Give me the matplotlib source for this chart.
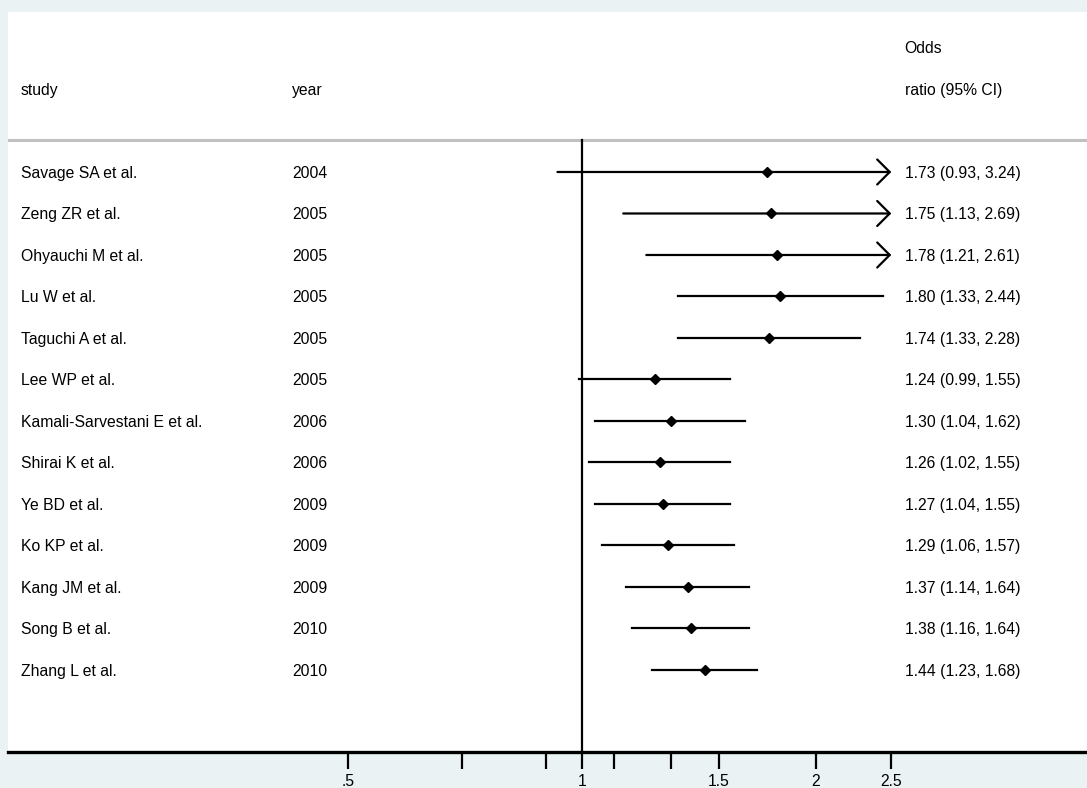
import numpy as np
import matplotlib.pyplot as plt

# ------------------------------
# data
# ------------------------------
studies = ["Savage SA et al.", "Zeng ZR et al.", "Ohyauchi M et al.", "Lu W et al.",
           "Taguchi A et al.", "Lee WP et al.", "Kamali-Sarvestani E et al.",
           "Shirai K et al.", "Ye BD et al.", "Ko KP et al.", "Kang JM et al.",
           "Song B et al.", "Zhang L et al."]
years = [2004, 2005, 2005, 2005, 2005, 2005, 2006, 2006, 2009, 2009, 2009, 2010, 2010]
odds  = [1.73, 1.75, 1.78, 1.80, 1.74, 1.24, 1.30, 1.26, 1.27, 1.29, 1.37, 1.38, 1.44]
ci_lo = [0.93, 1.13, 1.21, 1.33, 1.33, 0.99, 1.04, 1.02, 1.04, 1.06, 1.14, 1.16, 1.23]
ci_hi = [3.24, 2.69, 2.61, 2.44, 2.28, 1.55, 1.62, 1.55, 1.55, 1.57, 1.64, 1.64, 1.68]

tick_vals   = [0.5, 0.7, 0.9, 1.0, 1.1, 1.3, 1.5, 2.0, 2.5]
tick_labels = [".5", "", "", "1", "", "", "1.5", "2", "2.5"]
x_max_shown = 2.5

plt.rcParams['font.family'] = ['Liberation Sans', 'DejaVu Sans']

fig = plt.figure(figsize=(10.87, 7.88), dpi=100)
fig.patch.set_facecolor("#EAF2F4")
ax = fig.add_axes([8 / 1087, 36 / 788, 1 - 8 / 1087, 740 / 788])
ax.set_facecolor("white")

ax.set_xscale("log")
ax.set_xlim(np.exp(-1.700), np.exp(1.496))
ax.set_ylim(13.976, -3.855)

fs = 11.3
rows = np.arange(len(studies))
tr = ax.get_yaxis_transform()
dy = 0.03  # nudge text down a hair

# header
ax.text(0.012, -2.0 + dy, "study", transform=tr, fontsize=fs, va="center")
ax.text(0.263, -2.0 + dy, "year", transform=tr, fontsize=fs, va="center")
ax.text(0.831, -3.0 + dy, "Odds", transform=tr, fontsize=fs, va="center")
ax.text(0.831, -2.0 + dy, "ratio (95% CI)", transform=tr, fontsize=fs, va="center")
ax.axhline(-0.771, color="#C0C0C0", lw=2.2)

# null line
ax.plot([1, 1], [-0.771, 13.976], color="black", lw=1.6, zorder=2)

for r, s, yr, o, lo, hi in zip(rows, studies, years, odds, ci_lo, ci_hi):
    if hi > x_max_shown:
        ax.annotate("", xy=(x_max_shown, r), xytext=(lo, r),
                    arrowprops=dict(arrowstyle="->,head_length=0.45,head_width=0.45",
                                    lw=1.6, color="black", shrinkA=0, shrinkB=0,
                                    mutation_scale=20), zorder=3)
    else:
        ax.plot([lo, hi], [r, r], color="black", lw=1.6, zorder=3)
    ax.plot(o, r, marker="D", color="black", ms=4.8, zorder=4)
    ax.text(0.012, r + dy, s, transform=tr, fontsize=fs, va="center")
    ax.text(0.263, r + dy, str(yr), transform=tr, fontsize=fs, va="center")
    ax.text(0.831, r + dy, f"{o:.2f} ({lo:.2f}, {hi:.2f})", transform=tr, fontsize=fs, va="center")

ax.set_xticks(tick_vals)
ax.set_xticklabels(tick_labels, fontsize=fs)
ax.xaxis.set_minor_locator(plt.NullLocator())
ax.tick_params(axis="x", length=12, width=1.6, pad=4, direction="out")
ax.set_yticks([])
for side in ["top", "left", "right"]:
    ax.spines[side].set_visible(False)
ax.spines["bottom"].set_linewidth(2.4)

fig.savefig("out.png", dpi=100, facecolor=fig.get_facecolor())
